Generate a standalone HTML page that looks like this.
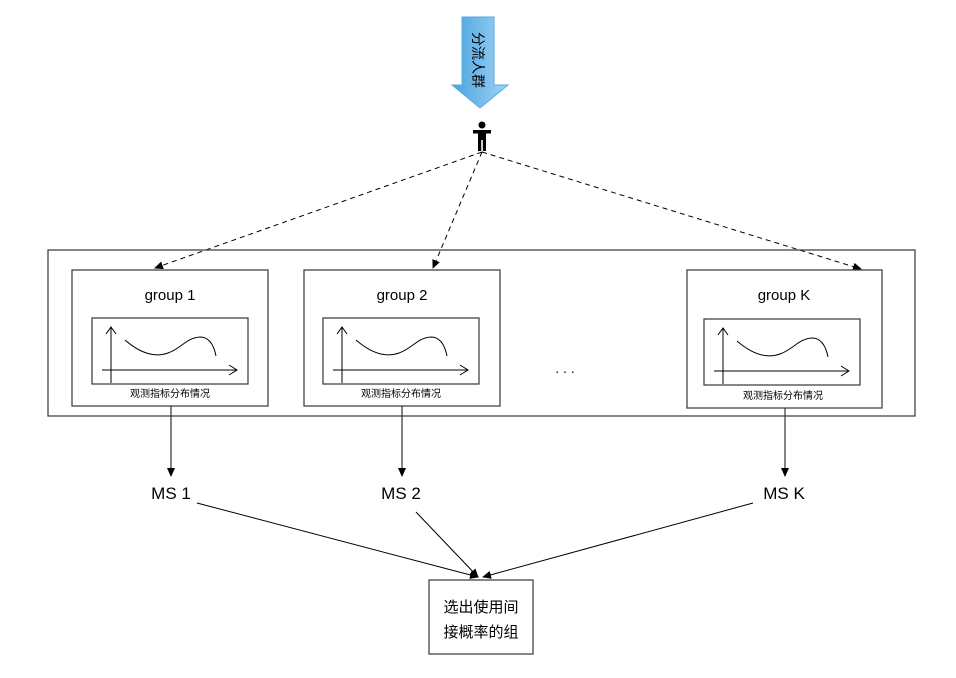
<!DOCTYPE html>
<html><head><meta charset="utf-8"><style>
html,body{margin:0;padding:0;background:#fff;}
svg{display:block;font-family:"Liberation Sans","Noto Sans CJK SC",sans-serif;}
</style></head><body>
<svg width="956" height="678" viewBox="0 0 956 678" xmlns="http://www.w3.org/2000/svg">
<defs>
<linearGradient id="g" x1="0" x2="1"><stop offset="0" stop-color="#4aa3e0"/><stop offset="1" stop-color="#9fd3f7"/></linearGradient>
<marker id="a" markerWidth="10" markerHeight="10" refX="8" refY="5" orient="auto" markerUnits="userSpaceOnUse"><path d="M0,1 L9,5 L0,9 Z" fill="#000"/></marker>
<g id="chart">
<rect x="0" y="0" width="156" height="66" fill="#fff" stroke="#444" stroke-width="1.3"/>
<line x1="19" y1="65" x2="19" y2="10" stroke="#000" stroke-width="1"/>
<path d="M14,16 L19,9 L24,16" fill="none" stroke="#000"/>
<line x1="10" y1="52" x2="144" y2="52" stroke="#000" stroke-width="1"/>
<path d="M137,47 L145,52 L137,57" fill="none" stroke="#000"/>
<path d="M33,22 C48,35 62,40 76,35 C90,30 94,20 108,19 C118,19 122,28 124,38" fill="none" stroke="#000" stroke-width="1"/>
</g>
</defs>
<path d="M462,17 L494,17 L494,85 L508,85 L480,108 L452,85 L462,85 Z" fill="url(#g)" stroke="#5aa9e0" stroke-width="1"/>
<text x="0" y="0" font-size="14" transform="translate(473,32) rotate(90)">分流人群</text>
<circle cx="482" cy="125" r="3.5" fill="#000"/>
<rect x="473" y="130" width="18" height="3.5" fill="#000"/>
<rect x="478" y="130" width="8" height="10" fill="#000"/>
<rect x="478" y="139" width="3.2" height="12" fill="#000"/>
<rect x="482.8" y="139" width="3.2" height="12" fill="#000"/>
<g stroke="#000" stroke-dasharray="5,4" fill="none" stroke-width="1">
<line x1="482" y1="152" x2="155" y2="268" marker-end="url(#a)"/>
<line x1="482" y1="152" x2="433" y2="268" marker-end="url(#a)"/>
<line x1="482" y1="152" x2="861" y2="269" marker-end="url(#a)"/>
</g>
<rect x="48" y="250" width="867" height="166" fill="none" stroke="#444" stroke-width="1.3"/>
<g stroke="#444" stroke-width="1.3" fill="#fff">
<rect x="72" y="270" width="196" height="136"/>
<rect x="304" y="270" width="196" height="136"/>
<rect x="687" y="270" width="195" height="138"/>
</g>
<g font-size="15" text-anchor="middle">
<text x="170" y="300">group 1</text>
<text x="402" y="300">group 2</text>
<text x="784" y="300">group K</text>
</g>
<use href="#chart" x="92" y="318"/>
<use href="#chart" x="323" y="318"/>
<use href="#chart" x="704" y="319"/>
<g font-size="10" text-anchor="middle">
<text x="170" y="397">观测指标分布情况</text>
<text x="401" y="397">观测指标分布情况</text>
<text x="783" y="399">观测指标分布情况</text>
</g>
<text x="565" y="373" font-size="14" text-anchor="middle">. . .</text>
<g stroke="#333" stroke-width="1.2">
<line x1="171" y1="406" x2="171" y2="476" marker-end="url(#a)"/>
<line x1="402" y1="406" x2="402" y2="476" marker-end="url(#a)"/>
<line x1="785" y1="408" x2="785" y2="476" marker-end="url(#a)"/>
</g>
<g font-size="17" text-anchor="middle">
<text x="171" y="499">MS 1</text>
<text x="401" y="499">MS 2</text>
<text x="784" y="499">MS K</text>
</g>
<g stroke="#000" stroke-width="1">
<line x1="197" y1="503" x2="478" y2="577" marker-end="url(#a)"/>
<line x1="416" y1="512" x2="478" y2="577" marker-end="url(#a)"/>
<line x1="753" y1="503" x2="483" y2="577" marker-end="url(#a)"/>
</g>
<rect x="429" y="580" width="104" height="74" fill="#fff" stroke="#444" stroke-width="1.3"/>
<g font-size="15" text-anchor="middle">
<text x="481" y="612">选出使用间</text>
<text x="481" y="637">接概率的组</text>
</g>
</svg>
</body></html>
